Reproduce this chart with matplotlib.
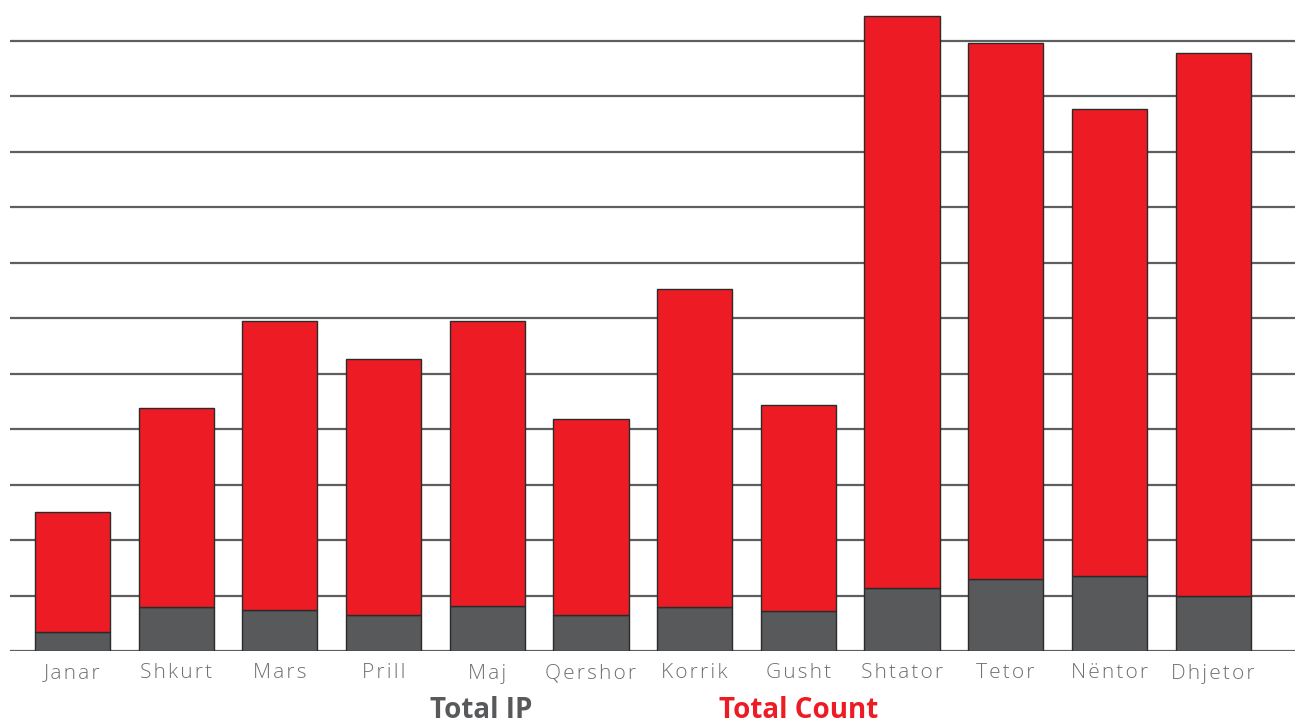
import matplotlib
matplotlib.use("Agg")
import matplotlib.pyplot as plt
import numpy as np

months = ["Janar", "Shkurt", "Mars", "Prill", "Maj", "Qershor",
          "Korrik", "Gusht", "Shtator", "Tetor", "Nëntor", "Dhjetor"]
# stacked: gray segment (Total IP) + red segment on top (Total Count)
total_ip = [34, 79, 74, 65, 81, 65, 79, 72, 114, 130, 135, 99]
total_count = [217, 359, 521, 462, 514, 353, 574, 372, 1031, 966, 842, 979]

RED = "#ED1C24"
GRAY = "#58595B"

fig = plt.figure(figsize=(12.95, 7.26), dpi=100)
ax = fig.add_axes([10 / 1295, 1 - 651 / 726, 1285 / 1295, 651 / 726])

x = np.arange(len(months))
ax.bar(x, total_ip, width=0.725, color=GRAY, edgecolor="#2b2b2b", linewidth=1, zorder=3)
ax.bar(x, total_count, width=0.725, bottom=total_ip, color=RED,
       edgecolor="#2b2b2b", linewidth=1, zorder=3)

for v in range(0, 1200, 100):
    ax.axhline(v, color="#5f5f5f", linewidth=1.6, zorder=1)

# wide letter spacing like the original labels
spaced = ["\u200a".join(m) for m in months]

ax.set_xlim(-0.603, 11.79)
ax.set_ylim(0, 1174)
ax.set_yticks([])
ax.set_xticks(x)
ax.set_xticklabels(spaced, fontsize=15, color="#707070",
                   family=["Open Sans", "DejaVu Sans"], fontweight="light")
ax.tick_params(axis="x", length=0, pad=9)
for s in ax.spines.values():
    s.set_visible(False)

fig.text(481 / 1295, 1 - 711 / 726, "Total IP", ha="center", va="center",
         fontsize=20, fontweight="bold", color=GRAY, family="Open Sans")
fig.text(799 / 1295, 1 - 711 / 726, "Total Count", ha="center", va="center",
         fontsize=20, fontweight="bold", color=RED, family="Open Sans")

fig.savefig("out.png", dpi=100, facecolor="white")
